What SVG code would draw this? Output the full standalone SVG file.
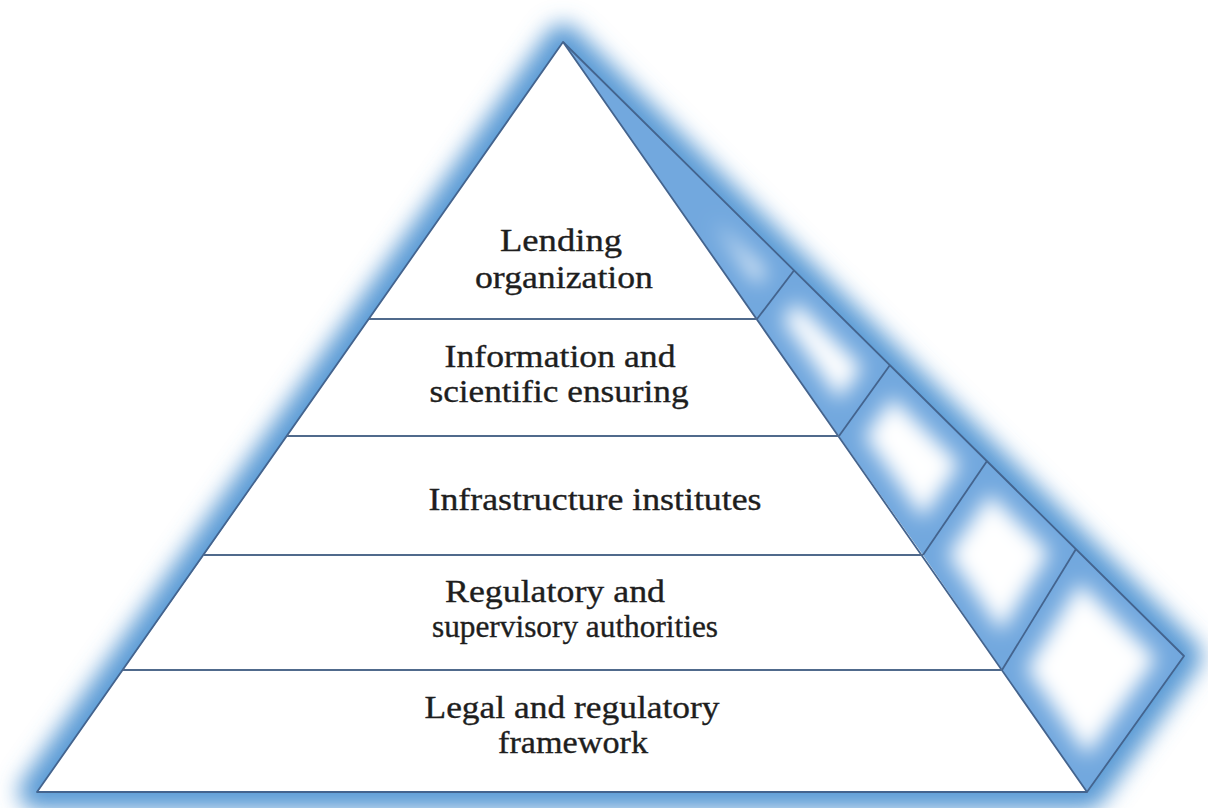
<svg xmlns="http://www.w3.org/2000/svg" width="1208" height="808" viewBox="0 0 1208 808">
  <style>
    .tier { fill: #ffffff; stroke: none; }
    .edge { fill: none; stroke: #44648e; stroke-width: 1.8; stroke-linejoin: round; }
    .div { fill: none; stroke: #506a8c; stroke-width: 2; }
    .panel { fill: #72a8de; }
    .hl { fill: #ffffff; filter: url(#inner); }
    .lbl { font-family: "Liberation Serif", "Times New Roman", serif; font-size: 31px; fill: #1e1e1e; stroke: #1e1e1e; stroke-width: 0.35; text-anchor: middle; }
  </style>
  <defs>
    <filter id="glow" x="-15%" y="-15%" width="130%" height="130%">
      <feGaussianBlur stdDeviation="11"/>
    </filter>
    <filter id="inner" x="-20%" y="-20%" width="140%" height="140%">
      <feMorphology operator="erode" radius="15"/>
      <feGaussianBlur stdDeviation="10"/>
    </filter>
    <clipPath id="c1"><polygon points="563,42 757,319 794,270.5"/></clipPath>
    <clipPath id="c2"><polygon points="757,319 839,436 890,365 794,270.5"/></clipPath>
    <clipPath id="c3"><polygon points="839,436 923,555 987,461 890,365"/></clipPath>
    <clipPath id="c4"><polygon points="923,555 1002,670 1076,549 987,461"/></clipPath>
    <clipPath id="c5"><polygon points="1002,670 1087,792 1184,656 1076,549"/></clipPath>
  </defs>

  <rect width="1208" height="808" fill="#ffffff"/>

  <!-- outer glow -->
  <g id="glow-layer">
    <polygon points="563,42 37,792 1087,792 1184,656" fill="#5b9bd5" stroke="#5b9bd5" stroke-width="36" stroke-linejoin="round" filter="url(#glow)"/>
  </g>

  <!-- side face -->
  <g id="side-face">
    <g clip-path="url(#c1)">
      <polygon class="panel" points="563,42 757,319 794,270.5"/>
      <polygon class="hl" points="563,42 757,319 794,270.5"/>
    </g>
    <g clip-path="url(#c2)">
      <polygon class="panel" points="757,319 839,436 890,365 794,270.5"/>
      <polygon class="hl" points="757,319 839,436 890,365 794,270.5"/>
    </g>
    <g clip-path="url(#c3)">
      <polygon class="panel" points="839,436 923,555 987,461 890,365"/>
      <polygon class="hl" points="839,436 923,555 987,461 890,365"/>
    </g>
    <g clip-path="url(#c4)">
      <polygon class="panel" points="923,555 1002,670 1076,549 987,461"/>
      <polygon class="hl" points="923,555 1002,670 1076,549 987,461"/>
    </g>
    <g clip-path="url(#c5)">
      <polygon class="panel" points="1002,670 1087,792 1184,656 1076,549"/>
      <polygon class="hl" points="1002,670 1087,792 1184,656 1076,549"/>
    </g>
    <polyline class="edge" points="563,42 1184,656 1087,792"/>
    <line class="edge" x1="757" y1="319" x2="794" y2="270.5"/>
    <line class="edge" x1="839" y1="436" x2="890" y2="365"/>
    <line class="edge" x1="923" y1="555" x2="987" y2="461"/>
    <line class="edge" x1="1002" y1="670" x2="1076" y2="549"/>
  </g>

  <!-- front tiers -->
  <g id="tier-lending">
    <polygon class="tier" points="563,42 369,319 757,319"/>
    <text class="lbl" x="561" y="251" textLength="122" lengthAdjust="spacingAndGlyphs">Lending</text>
    <text class="lbl" x="564" y="288" textLength="178" lengthAdjust="spacingAndGlyphs">organization</text>
  </g>
  <g id="tier-information">
    <polygon class="tier" points="369,319 757,319 839,436 287,436"/>
    <text class="lbl" x="560" y="367" textLength="231" lengthAdjust="spacingAndGlyphs">Information and</text>
    <text class="lbl" x="559" y="402" textLength="259" lengthAdjust="spacingAndGlyphs">scientific ensuring</text>
  </g>
  <g id="tier-infrastructure">
    <polygon class="tier" points="287,436 839,436 923,555 204,555"/>
    <text class="lbl" x="595" y="510" textLength="333" lengthAdjust="spacingAndGlyphs">Infrastructure institutes</text>
  </g>
  <g id="tier-regulatory">
    <polygon class="tier" points="204,555 923,555 1002,670 123,670"/>
    <text class="lbl" x="555" y="602" textLength="220" lengthAdjust="spacingAndGlyphs">Regulatory and</text>
    <text class="lbl" x="575" y="637" textLength="286" lengthAdjust="spacingAndGlyphs">supervisory authorities</text>
  </g>
  <g id="tier-legal">
    <polygon class="tier" points="123,670 1002,670 1087,792 37,792"/>
    <text class="lbl" x="572" y="718" textLength="295" lengthAdjust="spacingAndGlyphs">Legal and regulatory</text>
    <text class="lbl" x="573" y="753" textLength="150" lengthAdjust="spacingAndGlyphs">framework</text>
  </g>

  <!-- outlines and dividers -->
  <g id="connectors">
    <polygon class="edge" points="563,42 37,792 1087,792"/>
    <line class="div" x1="369" y1="319" x2="757" y2="319"/>
    <line class="div" x1="287" y1="436" x2="839" y2="436"/>
    <line class="div" x1="204" y1="555" x2="923" y2="555"/>
    <line class="div" x1="123" y1="670" x2="1002" y2="670"/>
  </g>
</svg>
